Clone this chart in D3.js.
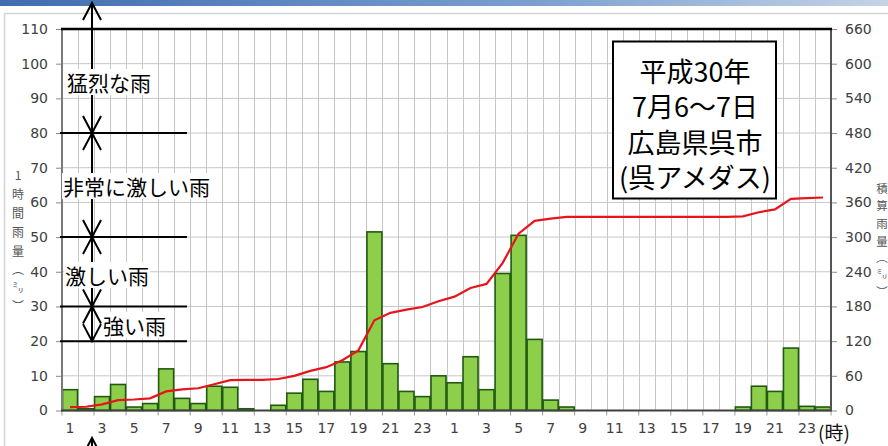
<!DOCTYPE html>
<html><head><meta charset="utf-8">
<script src="https://cdn.jsdelivr.net/npm/d3@7"></script>
<style>
html,body{margin:0;padding:0;background:#fff;}
svg{display:block;}
text{font-family:"DejaVu Sans",Verdana,sans-serif;}
.jp{font-family:"Noto Sans CJK JP","Noto Sans CJK SC",sans-serif;}
</style></head>
<body>
<svg id="c" width="888" height="446"></svg>
<script>
// ---- data ----
const hourLabels = [1,2,3,4,5,6,7,8,9,10,11,12,13,14,15,16,17,18,19,20,21,22,23,24,
                    1,2,3,4,5,6,7,8,9,10,11,12,13,14,15,16,17,18,19,20,21,22,23,24];
const hourlyRain = [6,0.5,4,7.5,1,2,12,3.5,2,7,6.7,0.5,0,1.5,5,9,5.5,14,17,51.5,13.5,5.5,4,10,
                    8,15.5,6,39.5,50.5,20.5,3,1,0,0,0,0,0,0,0,0,0,0,1,7,5.5,18,1.2,1];
const cumulativeRain = [6,6.5,10.5,18,19,21,33,36.5,38.5,45.5,52.5,53,53,54.5,60,68.5,75,87,104,156,169,174.5,179,189,
                        197,212,219,255,306,328,332,335,335,335,335,335,335,335,335,335,335,335,336,343,348,366,367.5,368.5];
const leftTicks = [0,10,20,30,40,50,60,70,80,90,100,110];
const rightTicks = [0,60,120,180,240,300,360,420,480,540,600,660];
const thresholds = [80,50,30,20];
const bands = [
  {label:"猛烈な雨", from:111, to:80},
  {label:"非常に激しい雨", from:80, to:50},
  {label:"激しい雨", from:50, to:30},
  {label:"強い雨", from:30, to:20}
];
const boxLines = ["平成30年","7月6～7日","広島県呉市","(呉アメダス)"];
const leftTitle = ["1","時","間","雨","量","︵","㍉","︶"];
const rightTitle = ["積","算","雨","量","︵","㍉","︶"];

// ---- layout ----
const svg = d3.select("#c");
const X0 = 62, X1 = 831, Y0 = 410.5, Y1 = 29;
const idx = d3.range(hourlyRain.length);
const x = d3.scaleBand().domain(idx).range([X0, X1]).padding(0);
const yL = d3.scaleLinear().domain([0,110]).range([Y0, Y1]);
const yR = d3.scaleLinear().domain([0,660]).range([Y0, Y1]);

// header strip + frame
const defs = svg.append("defs");
const g0 = defs.append("linearGradient").attr("id","hdr").attr("x1","0").attr("x2","1");
g0.append("stop").attr("offset","0").attr("stop-color","#3f6db0");
g0.append("stop").attr("offset","0.6").attr("stop-color","#7a9fd0");
g0.append("stop").attr("offset","1").attr("stop-color","#c5d3e6");
svg.append("rect").attr("x",0).attr("y",0).attr("width",888).attr("height",6).attr("fill","url(#hdr)");
svg.append("path").attr("d","M4.5,446 V13.5 H888").attr("fill","none").attr("stroke","#d4d4d4").attr("stroke-width",1.5);

// gridlines
const grid = svg.append("g").attr("stroke","#c6c6c6").attr("stroke-width",1);
idx.slice(1).forEach(i => {
  grid.append("line").attr("x1",Math.round(x(i))+0.5).attr("x2",Math.round(x(i))+0.5).attr("y1",Y1).attr("y2",Y0);
});
leftTicks.filter(t => t>0 && t<110).forEach(t => {
  grid.append("line").attr("x1",X0).attr("x2",X1).attr("y1",yL(t)).attr("y2",yL(t));
});

// bars
svg.append("g").selectAll("rect").data(idx.filter(i => hourlyRain[i] > 0)).join("rect")
  .attr("x", i => x(i)+0.5).attr("width", x.bandwidth()-1)
  .attr("y", i => yL(hourlyRain[i])).attr("height", i => Y0 - yL(hourlyRain[i]))
  .attr("fill","#8dcf4b").attr("stroke","#1f5a10").attr("stroke-width",1.6);

// cumulative line
const line = d3.line().x(i => x(i) + x.bandwidth()/2).y(i => yR(cumulativeRain[i]));
svg.append("path").datum(idx).attr("d", line).attr("fill","none")
  .attr("stroke","#e8141c").attr("stroke-width",2.2);

// axes
const axL = svg.append("g").attr("transform",`translate(${X0},0)`)
  .call(d3.axisLeft(yL).tickValues(leftTicks).tickSize(6).tickPadding(8));
const axR = svg.append("g").attr("transform",`translate(${X1},0)`)
  .call(d3.axisRight(yR).tickValues(rightTicks).tickSize(6).tickPadding(8));
[axL,axR].forEach(a => {
  a.select(".domain").remove();
  a.selectAll(".tick line").attr("stroke","#8a8a8a");
  a.selectAll(".tick text").attr("fill","#404040").style("font-size","14px");
});
const axB = svg.append("g").attr("transform",`translate(0,${Y0})`)
  .call(d3.axisBottom(x).tickValues(idx.filter(i => i % 2 === 0)).tickFormat(i => hourLabels[i]).tickSize(0).tickPadding(13));
axB.select(".domain").remove();
axB.selectAll(".tick text").attr("fill","#404040").style("font-size","14px");
// boundary tick marks
idx.filter(i => i % 2 === 0).concat([idx.length]).forEach(i => {
  const xx = i === idx.length ? X1 : x(i);
  svg.append("line").attr("x1",xx).attr("x2",xx).attr("y1",Y0).attr("y2",Y0+5).attr("stroke","#9a9a9a");
});
svg.append("text").attr("class","jp").attr("x",X1-13).attr("y",440).attr("font-size","19px").attr("fill","#111").text("(時)");

// plot frame
svg.append("line").attr("x1",X0).attr("x2",X0).attr("y1",Y1).attr("y2",Y0+1).attr("stroke","#7a7a7a").attr("stroke-width",2);
svg.append("line").attr("x1",X0-1).attr("x2",X1+1).attr("y1",Y0).attr("y2",Y0).attr("stroke","#404040").attr("stroke-width",2);
svg.append("line").attr("x1",X1).attr("x2",X1).attr("y1",Y1).attr("y2",Y0).attr("stroke","#555").attr("stroke-width",2);
svg.append("line").attr("x1",X0-1).attr("x2",X1+1).attr("y1",Y1).attr("y2",Y1).attr("stroke","#000").attr("stroke-width",2.5);

// axis titles
const leftTY = [180,199,218,237,256,274,293,311];
leftTitle.forEach((ch,k) => {
  svg.append("text").attr("class","jp").attr("x",18).attr("y",leftTY[k])
    .attr("text-anchor","middle").attr("font-size","12px").attr("fill","#555").text(ch);
});
const rightTY = [193,210,228,246,262,279,296];
rightTitle.forEach((ch,k) => {
  svg.append("text").attr("class","jp").attr("x",882).attr("y",rightTY[k])
    .attr("text-anchor","middle").attr("font-size","11.5px").attr("fill","#555").text(ch);
});

// thresholds
thresholds.forEach(t => {
  svg.append("line").attr("x1",X0-2).attr("x2",187).attr("y1",yL(t)).attr("y2",yL(t))
    .attr("stroke","#000").attr("stroke-width",2);
});

// arrows
const AX = 92;
const ag = svg.append("g").attr("stroke","#000").attr("stroke-width",2).attr("fill","none");
function head(yTip, dir) { // dir -1: up, +1: down
  const yb = yTip - dir*17;
  ag.append("path").attr("d",`M${AX-9},${yb} L${AX},${yTip} L${AX+9},${yb}`);
}
bands.forEach((b,k) => {
  const yt = k === 0 ? 3 : yL(b.from), yb = yL(b.to);
  ag.append("line").attr("x1",AX).attr("x2",AX).attr("y1",yt).attr("y2",yb);
  head(yt,-1); head(yb,1);
});
ag.append("line").attr("x1",AX).attr("x2",AX).attr("y1",438).attr("y2",446);
head(438,-1);

// band labels with white background
const labelPos = [[67,82],[63,186],[65,275],[103,325]];
bands.forEach((b,k) => {
  const t = svg.append("text").attr("class","jp").attr("x",labelPos[k][0]).attr("y",labelPos[k][1])
    .attr("dominant-baseline","central").attr("font-size","21px").attr("fill","#000").text(b.label);
  const bb = t.node().getBBox();
  svg.insert("rect", () => t.node()).attr("x",bb.x-1).attr("y",bb.y+2).attr("width",bb.width+2).attr("height",bb.height-4).attr("fill","#fff");
});

// info box
svg.append("rect").attr("x",613).attr("y",41.5).attr("width",163).attr("height",157).attr("fill","#fff")
  .attr("stroke","#000").attr("stroke-width",2);
boxLines.forEach((s,k) => {
  svg.append("text").attr("class","jp").attr("x",695).attr("y",70 + k*35.5).attr("text-anchor","middle")
    .attr("dominant-baseline","central").attr("font-size","27px").attr("fill","#000").text(s);
});
</script>
</body></html>
